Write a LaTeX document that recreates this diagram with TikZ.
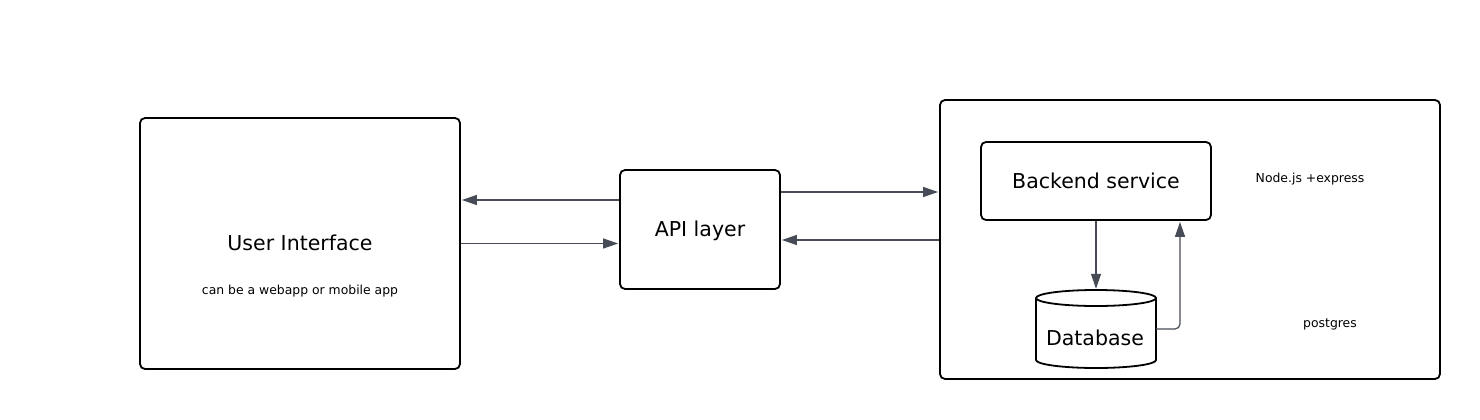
\documentclass[tikz,border=0pt]{standalone}
\usepackage{fontspec}
\setmainfont{DejaVu Sans}
\usetikzlibrary{arrows.meta}
\definecolor{connc}{RGB}{70,75,86}
\begin{document}
\begin{tikzpicture}[x=1pt,y=-1pt,
  box/.style={draw=black, line width=1.8pt, rounded corners=5pt, inner sep=0pt, fill=white},
  lbl/.style={font=\fontsize{20.5}{24}\selectfont, inner sep=0pt},
  note/.style={font=\fontsize{12.4}{14}\selectfont, inner sep=0pt},
  conn/.style={draw=connc, line width=1.2pt, -{Triangle[length=15pt,width=10pt]}, shorten >=1pt}]
\useasboundingbox[fill=white] (0,0) rectangle (1480,420);
% boxes
\node[box, minimum width=320pt, minimum height=251pt] (ui) at (300,243.5) {};
\node[lbl] (uit) at (300,243) {User Interface};
\node[note] (uin) at (300,291) {can be a webapp or mobile app};
\node[box, minimum width=160pt, minimum height=119pt] (api) at (700,229.5) {};
\node[lbl] (apil) at (700,231) {API layer};
\node[box, minimum width=500pt, minimum height=279pt] (outer) at (1190,239.5) {};
\node[box, lbl, minimum width=230pt, minimum height=78pt] (backend) at (1096,181) {Backend service};
\node[note] (nodejs) at (1310,179) {Node.js +express};
\node[note] (pg) at (1330,324) {postgres};
% database cylinder
\node[minimum width=120pt, minimum height=80pt, inner sep=0pt] (db) at (1096,330) {};
\draw[line width=1.8pt, fill=white] (1036,298) -- (1036,360)
  arc[start angle=180, end angle=0, x radius=60, y radius=8] -- (1156,298);
\draw[line width=1.8pt] (1096,298) ellipse[x radius=60, y radius=8];
\node[lbl] (dbl) at (1095,338) {Database};
% connectors
\draw[conn] ([yshift=29.5pt]api.west) -- ([yshift=43.5pt]ui.east);
\draw[conn] (ui.east) -- ([yshift=-14pt]api.west);
\draw[conn] ([yshift=37.5pt]api.east) -- ([yshift=47.5pt]outer.west);
\draw[conn] ([yshift=-0.5pt]outer.west) -- ([yshift=-10.5pt]api.east);
\draw[conn] (backend.south) -- (db.north);
\draw[conn, rounded corners=5pt] ([yshift=1pt]db.east) -| ([xshift=84pt]backend.south);
\end{tikzpicture}
\end{document}
